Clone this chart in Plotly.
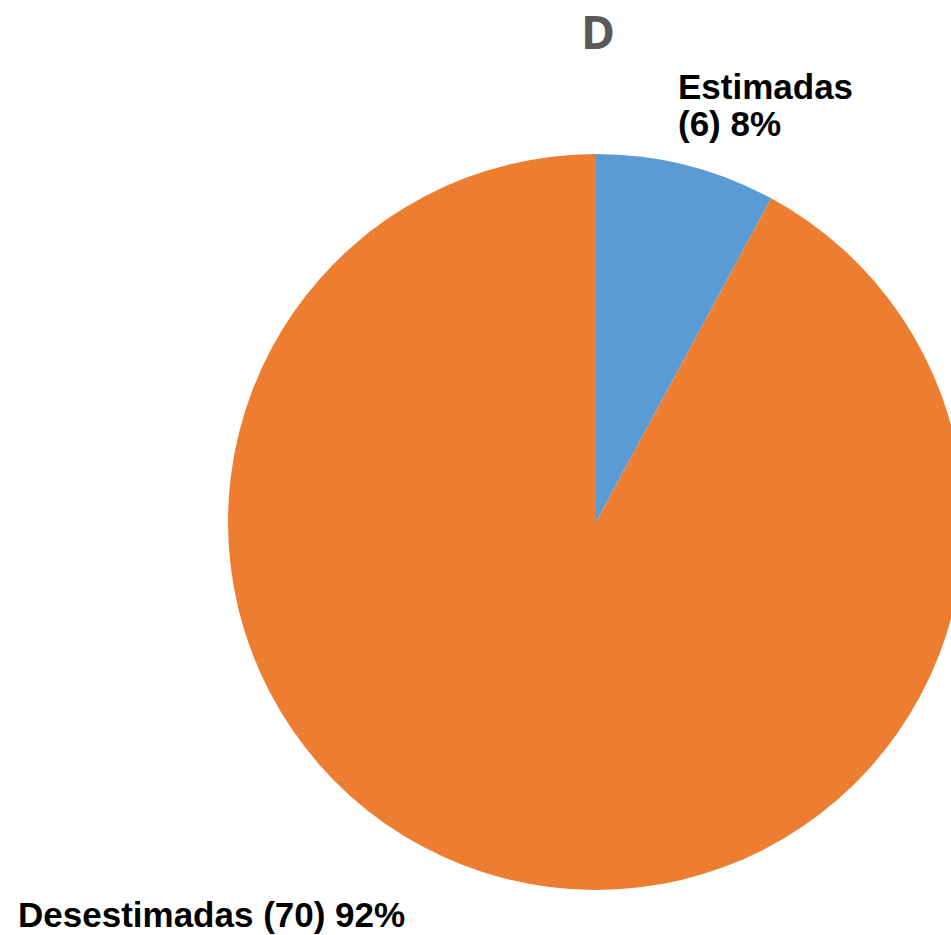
import plotly.graph_objects as go

# data
labels = ["Estimadas", "Desestimadas"]
counts = [6, 70]
colors = ["#5B9BD5", "#ED7D31"]

W, H = 970, 935
total = sum(counts)
pct = [round(c / total * 100) for c in counts]

fig = go.Figure(go.Pie(
    labels=labels,
    values=counts,
    sort=False,
    direction="clockwise",
    rotation=0,
    marker=dict(colors=colors, line=dict(width=0)),
    textinfo="none",
    hoverinfo="label+value+percent",
    domain=dict(x=[228 / W, 964 / W], y=[(H - 890) / H, (H - 154) / H]),
    showlegend=False,
))

lbl_font = dict(family="Arial", size=35, color="#000000")
# label for the small slice, two lines placed separately for tighter spacing
fig.add_annotation(
    text=f"<b>{labels[0]}</b>",
    x=676 / W, y=1 - 65 / H, xref="paper", yref="paper",
    xanchor="left", yanchor="top", showarrow=False, font=lbl_font,
)
fig.add_annotation(
    text=f"<b>({counts[0]}) {pct[0]}%</b>",
    x=676 / W, y=1 - 102 / H, xref="paper", yref="paper",
    xanchor="left", yanchor="top", showarrow=False, font=lbl_font,
)
fig.add_annotation(
    text=f"<b>{labels[1]} ({counts[1]}) {pct[1]}%</b>",
    x=16 / W, y=1 - 893 / H, xref="paper", yref="paper",
    xanchor="left", yanchor="top", showarrow=False, font=lbl_font,
)

fig.update_layout(
    width=W, height=H,
    margin=dict(l=0, r=0, t=0, b=0),
    paper_bgcolor="white",
    title=dict(text="<b>D</b>", x=598 / W, xanchor="center", y=1 - 17 / H, yanchor="top",
               font=dict(family="Open Sans", size=46, color="#595959")),
)

fig.write_html("out.html", config={"displayModeBar": False},
               post_script="document.body.style.margin='0';document.body.style.overflow='hidden';")
